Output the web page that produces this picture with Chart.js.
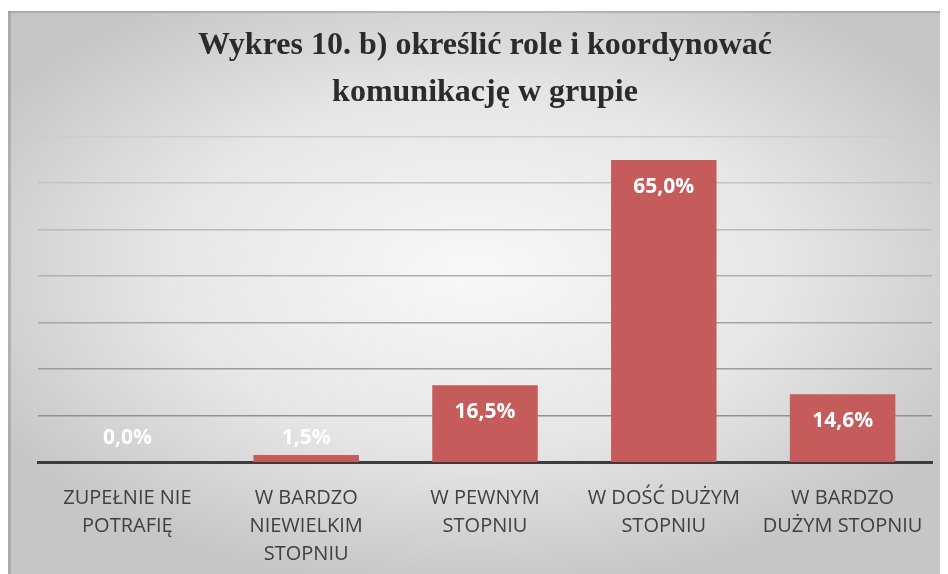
<!DOCTYPE html>
<html>
<head>
<meta charset="utf-8">
<script src="https://cdn.jsdelivr.net/npm/chart.js@4"></script>
<style>
  html, body { margin: 0; padding: 0; background: #ffffff; overflow: hidden; }
  #wrap { width: 948px; height: 574px; position: relative; }
</style>
</head>
<body>
<div id="wrap"><canvas id="myChart"></canvas></div>
<script>
const titleLines = ['Wykres 10. b) określić role i koordynować', 'komunikację w grupie'];

const categories = [
    ['ZUPEŁNIE NIE', 'POTRAFIĘ'],
    ['W BARDZO', 'NIEWIELKIM', 'STOPNIU'],
    ['W PEWNYM', 'STOPNIU'],
    ['W DOŚĆ DUŻYM', 'STOPNIU'],
    ['W BARDZO', 'DUŻYM STOPNIU']
];

const values = [0.0, 1.5, 16.5, 65.0, 14.6];

const yTicks = [0, 10, 20, 30, 40, 50, 60, 70];

// grey card behind the chart, lighter in the middle
const cardBackground = {
    id: 'cardBackground',
    beforeDraw(chart) {
        const ctx = chart.ctx;
        const w = chart.width, h = chart.height;
        ctx.save();
        ctx.fillStyle = '#ffffff';
        ctx.fillRect(0, 0, w, h);
        const x0 = 8, y0 = 11, x1 = 940, y1 = h;
        ctx.beginPath();
        ctx.rect(x0, y0, x1 - x0, y1 - y0);
        ctx.clip();
        ctx.translate(474, 270);
        ctx.scale(1.75, 1);
        const g = ctx.createRadialGradient(0, 0, 0, 0, 0, 320);
        g.addColorStop(0, '#f8f8f8');
        g.addColorStop(0.55, '#e6e6e6');
        g.addColorStop(1, '#c6c6c6');
        ctx.fillStyle = g;
        ctx.fillRect(-500, -500, 1000, 1000);
        ctx.restore();
        ctx.save();
        ctx.fillStyle = 'rgba(120,120,120,0.35)';
        ctx.fillRect(x0, y0, x1 - x0, 2);
        ctx.fillRect(x0, y0, 3, y1 - y0);
        ctx.restore();
    }
};

const barLabels = {
    id: 'barLabels',
    afterDatasetsDraw(chart) {
        const ctx = chart.ctx;
        const meta = chart.getDatasetMeta(0);
        ctx.save();
        ctx.font = "bold 21px 'Open Sans', sans-serif";
        ctx.fillStyle = '#ffffff';
        ctx.textAlign = 'center';
        ctx.textBaseline = 'middle';
        meta.data.forEach((bar, i) => {
            const txt = values[i].toFixed(1).replace('.', ',') + '%';
            const y = Math.min(bar.y + 27, bar.base - 24);
            ctx.fillText(txt, bar.x, y);
        });
        ctx.restore();
    }
};

new Chart(document.getElementById('myChart'), {
    type: 'bar',
    data: {
        labels: categories,
        datasets: [{
            data: values,
            backgroundColor: '#c55b5b',
            borderWidth: 0,
            categoryPercentage: 1.0,
            barPercentage: 0.59
        }]
    },
    options: {
        responsive: true,
        maintainAspectRatio: false,
        animation: false,
        layout: { padding: { top: 11, left: 38, right: 16, bottom: 6 } },
        plugins: {
            legend: { display: false },
            tooltip: { enabled: false },
            title: {
                display: true,
                text: titleLines,
                color: '#2b2b2b',
                font: { family: "'Liberation Serif', 'DejaVu Serif', serif", size: 32, weight: 'bold', lineHeight: 1.45 },
                padding: { top: 12, bottom: 21 }
            }
        },
        scales: {
            x: {
                grid: { display: false, drawTicks: false },
                border: { display: true, color: '#3c3c3c', width: 3 },
                afterFit: (scale) => { scale.height = 106; },
                ticks: {
                    color: '#404040',
                    font: { family: "'Open Sans', sans-serif", size: 20, lineHeight: 1.4 },
                    padding: 22,
                    maxRotation: 0,
                    autoSkip: false
                }
            },
            y: {
                min: 0,
                max: yTicks[yTicks.length - 1],
                afterBuildTicks: (axis) => { axis.ticks = yTicks.map(v => ({ value: v })); },
                ticks: { display: false },
                border: { display: false },
                grid: {
                    drawTicks: false,
                    lineWidth: (c) => c.tick && c.tick.value === 0 ? 0 : 1.6,
                    color: (c) => {
                        const v = c.tick ? c.tick.value : 0;
                        const k = Math.round(135 + (v / 70) * 70);
                        return `rgb(${k},${k},${k})`;
                    }
                }
            }
        }
    },
    plugins: [cardBackground, barLabels]
});
</script>
</body>
</html>
